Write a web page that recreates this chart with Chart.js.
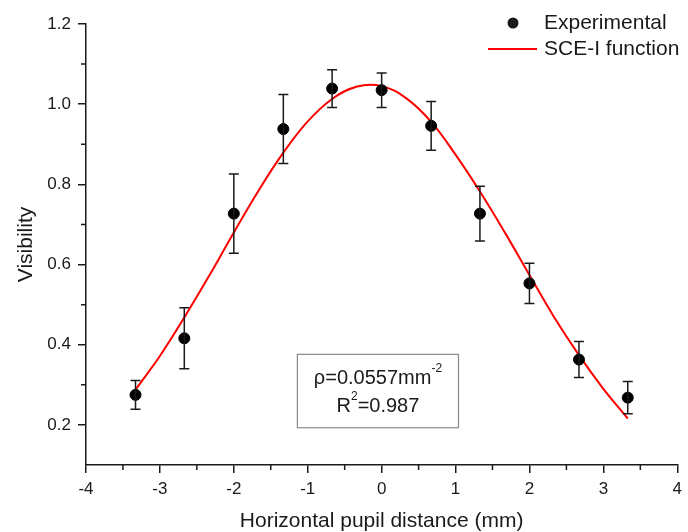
<!DOCTYPE html>
<html>
<head>
<meta charset="utf-8">
<script src="https://cdn.jsdelivr.net/npm/chart.js@4.4.1/dist/chart.umd.min.js"></script>
<style>
  html, body { margin: 0; padding: 0; background: #fff; }
  #wrap { width: 688px; height: 532px; }
</style>
</head>
<body>
<div id="wrap"><canvas id="vis" width="688" height="532"></canvas></div>
<script>
// gemeten punten (pupil positie in mm)
const pupilX = [-3.33, -2.67, -2.0, -1.33, -0.67, 0.0, 0.67, 1.33, 2.0, 2.67, 3.33];
const visibility = [0.275, 0.416, 0.727, 0.938, 1.039, 1.035, 0.946, 0.727, 0.553, 0.363, 0.268];
const visErr = [0.036, 0.076, 0.099, 0.086, 0.047, 0.043, 0.061, 0.068, 0.050, 0.045, 0.040];

// SCE-I fit
const fitX = [-3.33, -3.0, -2.67, -2.33, -2.0, -1.67, -1.33, -1.0, -0.67, -0.33, 0.0,
              0.33, 0.67, 1.0, 1.33, 1.67, 2.0, 2.33, 2.67, 3.0, 3.33];
const fitY = [0.288, 0.372, 0.468, 0.573, 0.680, 0.783, 0.879, 0.957, 1.013, 1.044, 1.045,
              1.015, 0.956, 0.874, 0.782, 0.679, 0.574, 0.470, 0.374, 0.290, 0.216];

const xTicks = [-4, -3, -2, -1, 0, 1, 2, 3, 4];
const yTicks = [0.2, 0.4, 0.6, 0.8, 1.0, 1.2];

const FONT = '"Liberation Sans", Arial, sans-serif';
const INK = '#1a1a1a';

const isMajor = (list, v) => list.some(t => Math.abs(t - v) < 1e-6);

// foutbalken
const errorBars = {
  id: 'errorBars',
  afterDatasetsDraw(chart) {
    const { ctx, scales: { x, y } } = chart;
    ctx.save();
    ctx.strokeStyle = INK;
    ctx.lineWidth = 1.5;
    pupilX.forEach((px, i) => {
      const cx = x.getPixelForValue(px);
      const top = y.getPixelForValue(visibility[i] + visErr[i]);
      const bot = y.getPixelForValue(visibility[i] - visErr[i]);
      ctx.beginPath();
      ctx.moveTo(cx, top); ctx.lineTo(cx, bot);
      ctx.moveTo(cx - 5, top); ctx.lineTo(cx + 5, top);
      ctx.moveTo(cx - 5, bot); ctx.lineTo(cx + 5, bot);
      ctx.stroke();
    });
    ctx.restore();
  }
};

// kleine tussenstreepjes
const minorTicks = {
  id: 'minorTicks',
  afterDraw(chart) {
    const { ctx, scales: { x, y } } = chart;
    ctx.save();
    ctx.strokeStyle = INK;
    ctx.lineWidth = 1.5;
    ctx.beginPath();
    x.ticks.forEach(t => {
      if (isMajor(xTicks, t.value)) return;
      const px = x.getPixelForValue(t.value);
      ctx.moveTo(px, x.top); ctx.lineTo(px, x.top + 5);
    });
    y.ticks.forEach(t => {
      if (isMajor(yTicks, t.value) || t.value < 0.15) return;
      const py = y.getPixelForValue(t.value);
      ctx.moveTo(y.right, py); ctx.lineTo(y.right - 5, py);
    });
    ctx.stroke();
    ctx.restore();
  }
};

// legenda + tekstvak
const extras = {
  id: 'extras',
  afterDraw(chart) {
    const { ctx, scales: { x, y } } = chart;
    ctx.save();
    ctx.font = '21px ' + FONT;
    ctx.fillStyle = INK;
    ctx.textBaseline = 'middle';
    ctx.beginPath();
    ctx.arc(513, 23, 5.5, 0, Math.PI * 2);
    ctx.fill();
    ctx.fillText('Experimental', 544, 23);
    ctx.strokeStyle = '#ff0000';
    ctx.lineWidth = 2;
    ctx.beginPath();
    ctx.moveTo(488, 49); ctx.lineTo(537, 49);
    ctx.stroke();
    ctx.fillText('SCE-I function', 544, 49);

    // kader met fitparameters
    const bx0 = x.getPixelForValue(-1.14), bx1 = x.getPixelForValue(1.04);
    const by0 = y.getPixelForValue(0.376), by1 = y.getPixelForValue(0.193);
    ctx.strokeStyle = '#8a8a8a';
    ctx.lineWidth = 1.2;
    ctx.strokeRect(bx0, by0, bx1 - bx0, by1 - by0);
    const mid = (bx0 + bx1) / 2;
    const big = '20px ' + FONT, small = '12px ' + FONT;
    const line = (parts, cy) => {
      let w = 0;
      parts.forEach(p => { ctx.font = p.sup ? small : big; w += ctx.measureText(p.t).width; });
      let cx = mid - w / 2;
      parts.forEach(p => {
        ctx.font = p.sup ? small : big;
        ctx.fillText(p.t, cx, p.sup ? cy - 9 : cy);
        cx += ctx.measureText(p.t).width;
      });
    };
    ctx.fillStyle = INK;
    line([{ t: 'ρ=0.0557mm' }, { t: '-2', sup: true }], 378);
    line([{ t: 'R' }, { t: '2', sup: true }, { t: '=0.987' }], 406);
    ctx.restore();
  }
};

new Chart(document.getElementById('vis'), {
  type: 'scatter',
  data: {
    datasets: [{
      label: 'Experimental',
      data: pupilX.map((v, i) => ({ x: v, y: visibility[i] })),
      backgroundColor: '#000',
      borderColor: '#000',
      pointRadius: 5.5,
      pointHoverRadius: 5.5,
      order: 1
    }, {
      type: 'line',
      label: 'SCE-I function',
      data: fitX.map((v, i) => ({ x: v, y: fitY[i] })),
      borderColor: '#ff0000',
      borderWidth: 2,
      pointRadius: 0,
      tension: 0.4,
      fill: false,
      order: 2
    }]
  },
  options: {
    responsive: false,
    animation: false,
    devicePixelRatio: 1,
    layout: { padding: { top: 24, right: 6, left: 0, bottom: 0 } },
    plugins: { legend: { display: false }, tooltip: { enabled: false } },
    scales: {
      x: {
        type: 'linear',
        min: -4, max: 4,
        afterFit: s => { s.height = 67; },
        border: { display: true, color: INK, width: 1.5 },
        grid: {
          drawOnChartArea: false, drawTicks: true, tickLength: 8, lineWidth: 1.5,
          color: c => (c.tick && isMajor(xTicks, c.tick.value)) ? INK : 'rgba(0,0,0,0)'
        },
        ticks: {
          stepSize: 0.5, autoSkip: false, maxRotation: 0, padding: 6,
          color: INK, font: { family: FONT, size: 17 },
          callback: v => isMajor(xTicks, v) ? String(Math.round(v)) : ''
        },
        title: {
          display: true, text: 'Horizontal pupil distance (mm)',
          color: INK, font: { family: FONT, size: 21, lineHeight: 1 }, padding: { top: 4, bottom: 0 }
        }
      },
      y: {
        type: 'linear',
        min: 0.1, max: 1.2,
        afterFit: s => { s.width = 86; },
        border: { display: true, color: INK, width: 1.5 },
        grid: {
          drawOnChartArea: false, drawTicks: true, tickLength: 8, lineWidth: 1.5,
          color: c => (c.tick && isMajor(yTicks, c.tick.value)) ? INK : 'rgba(0,0,0,0)'
        },
        ticks: {
          stepSize: 0.1, autoSkip: false, padding: 7,
          color: INK, font: { family: FONT, size: 17 },
          callback: v => isMajor(yTicks, v) ? v.toFixed(1) : ''
        },
        title: {
          display: true, text: 'Visibility',
          color: INK, font: { family: FONT, size: 21 }, padding: { top: 14, bottom: 0 }
        }
      }
    }
  },
  plugins: [errorBars, minorTicks, extras]
});
</script>
</body>
</html>
